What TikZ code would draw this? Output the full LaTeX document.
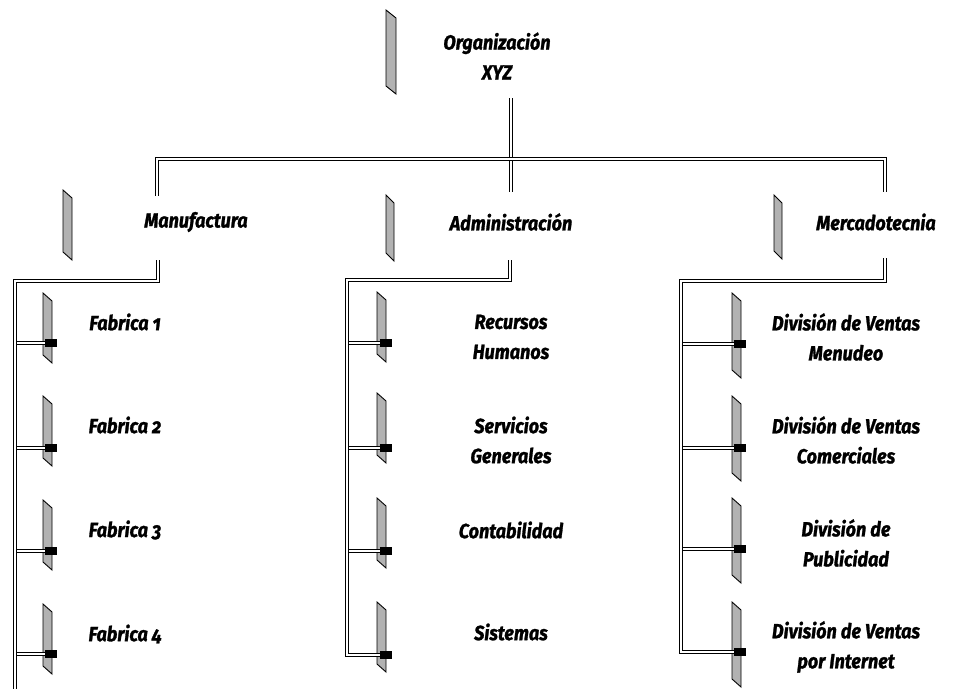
\documentclass[tikz,border=0pt]{standalone}
\usepackage{fontspec}
\setmainfont{Fira Sans}[Numbers=OldStyle,FakeStretch=0.88,BoldItalicFeatures={FakeBold=1.3}]
\begin{document}
\begin{tikzpicture}[x=1pt,y=-1pt,
  link/.style={draw=black,double=white,line width=1.6pt,double distance=1.5pt,line join=miter},
  lbl/.style={font=\bfseries\itshape\fontsize{20.5}{30}\selectfont,align=center,inner sep=0pt},
  barfill/.style={fill=gray!60,draw=black,line width=0.9pt,line join=miter}]
\useasboundingbox (0,0) rectangle (962,689);

% decorative tag bars: x, top y, height, width
\newcommand\tagbar[4]{%
  \filldraw[barfill] (#1,#2) -- ++(#4,8) -- ++(0,#3) -- ++(-#4,-8) -- cycle;}
% solid block where a branch meets its tag bar
\newcommand\joinblock[2]{\fill (#1-12,#2-4) rectangle (#1,#2+4);}

% ---------- labels ----------
\node[lbl] (org) at (497,56) {Organización\\XYZ};
\node[lbl] (man) at (196,222) {Manufactura};
\node[lbl] (adm) at (511,222) {Administración};
\node[lbl] (mer) at (876,222) {Mercadotecnia};

\node[lbl] (f1) at (125,322) {Fabrica 1};
\node[lbl] (f2) at (125,425) {Fabrica 2};
\node[lbl] (f3) at (125,530) {Fabrica 3};
\node[lbl] (f4) at (125,634) {Fabrica 4};

\node[lbl] (a1) at (511,337) {Recursos\\Humanos};
\node[lbl] (a2) at (511,440) {Servicios\\Generales};
\node[lbl] (a3) at (511,530) {Contabilidad};
\node[lbl] (a4) at (511,632) {Sistemas};

\node[lbl] (k1) at (846,337) {División de Ventas\\Menudeo};
\node[lbl] (k2) at (846,440) {División de Ventas\\Comerciales};
\node[lbl] (k3) at (846,543) {División de\\Publicidad};
\node[lbl] (k4) at (846,647) {División de Ventas\\por Internet};

% ---------- tag bars ----------
\tagbar{386}{10}{76}{10}
\tagbar{63}{190}{62}{9}
\tagbar{386}{195}{58}{8}
\tagbar{774}{195}{56}{8}

\foreach \y in {293,396,500,604} {\tagbar{43}{\y}{62}{9}}
\foreach \y in {292,393,498,602} {\tagbar{377}{\y}{62}{9}}
\foreach \y in {293,396,498,602} {\tagbar{732}{\y}{77}{9}}

% ---------- coordinates of the tree ----------
\coordinate (orgtop) at (511,98);
\coordinate (orgbot) at (511,192);
\coordinate (topL) at (157,159);
\coordinate (topR) at (885,159);
\coordinate (manIn) at (157,196);
\coordinate (merIn) at (885,192);

\coordinate (manOut) at (158,260);
\coordinate (manC1) at (158,281);
\coordinate (manC2) at (15,281);
\coordinate (manEnd) at (15,689);

\coordinate (admOut) at (510,260);
\coordinate (admC1) at (510,280);
\coordinate (admC2) at (347,280);
\coordinate (admC3) at (347,655);

\coordinate (merOut) at (885,258);
\coordinate (merC1) at (885,281);
\coordinate (merC2) at (681,281);
\coordinate (merC3) at (681,652);

% branch stubs
\foreach \n/\y in {f1/343,f2/448,f3/551,f4/654} {
  \coordinate (\n L) at (15,\y); \coordinate (\n R) at (57,\y);
  \draw[link] (\n L) -- (\n R); \joinblock{57}{\y}}
\foreach \n/\y in {a1/343,a2/448,a3/551} {
  \coordinate (\n L) at (347,\y); \coordinate (\n R) at (392,\y);
  \draw[link] (\n L) -- (\n R); \joinblock{392}{\y}}
\coordinate (a4R) at (392,655);
\foreach \n/\y in {k1/344,k2/448,k3/549} {
  \coordinate (\n L) at (681,\y); \coordinate (\n R) at (746,\y);
  \draw[link] (\n L) -- (\n R); \joinblock{746}{\y}}
\coordinate (k4R) at (746,652);

% trunk lines
\draw[link] (orgtop) -- (orgbot);
\draw[link] (manIn) -- (topL) -- (topR) -- (merIn);
\draw[link] (manOut) -- (manC1) -- (manC2) -- (manEnd);
\draw[link] (admOut) -- (admC1) -- (admC2) -- (admC3) -- (a4R);
\joinblock{392}{655}
\draw[link] (merOut) -- (merC1) -- (merC2) -- (merC3) -- (k4R);
\joinblock{746}{652}
\end{tikzpicture}
\end{document}
